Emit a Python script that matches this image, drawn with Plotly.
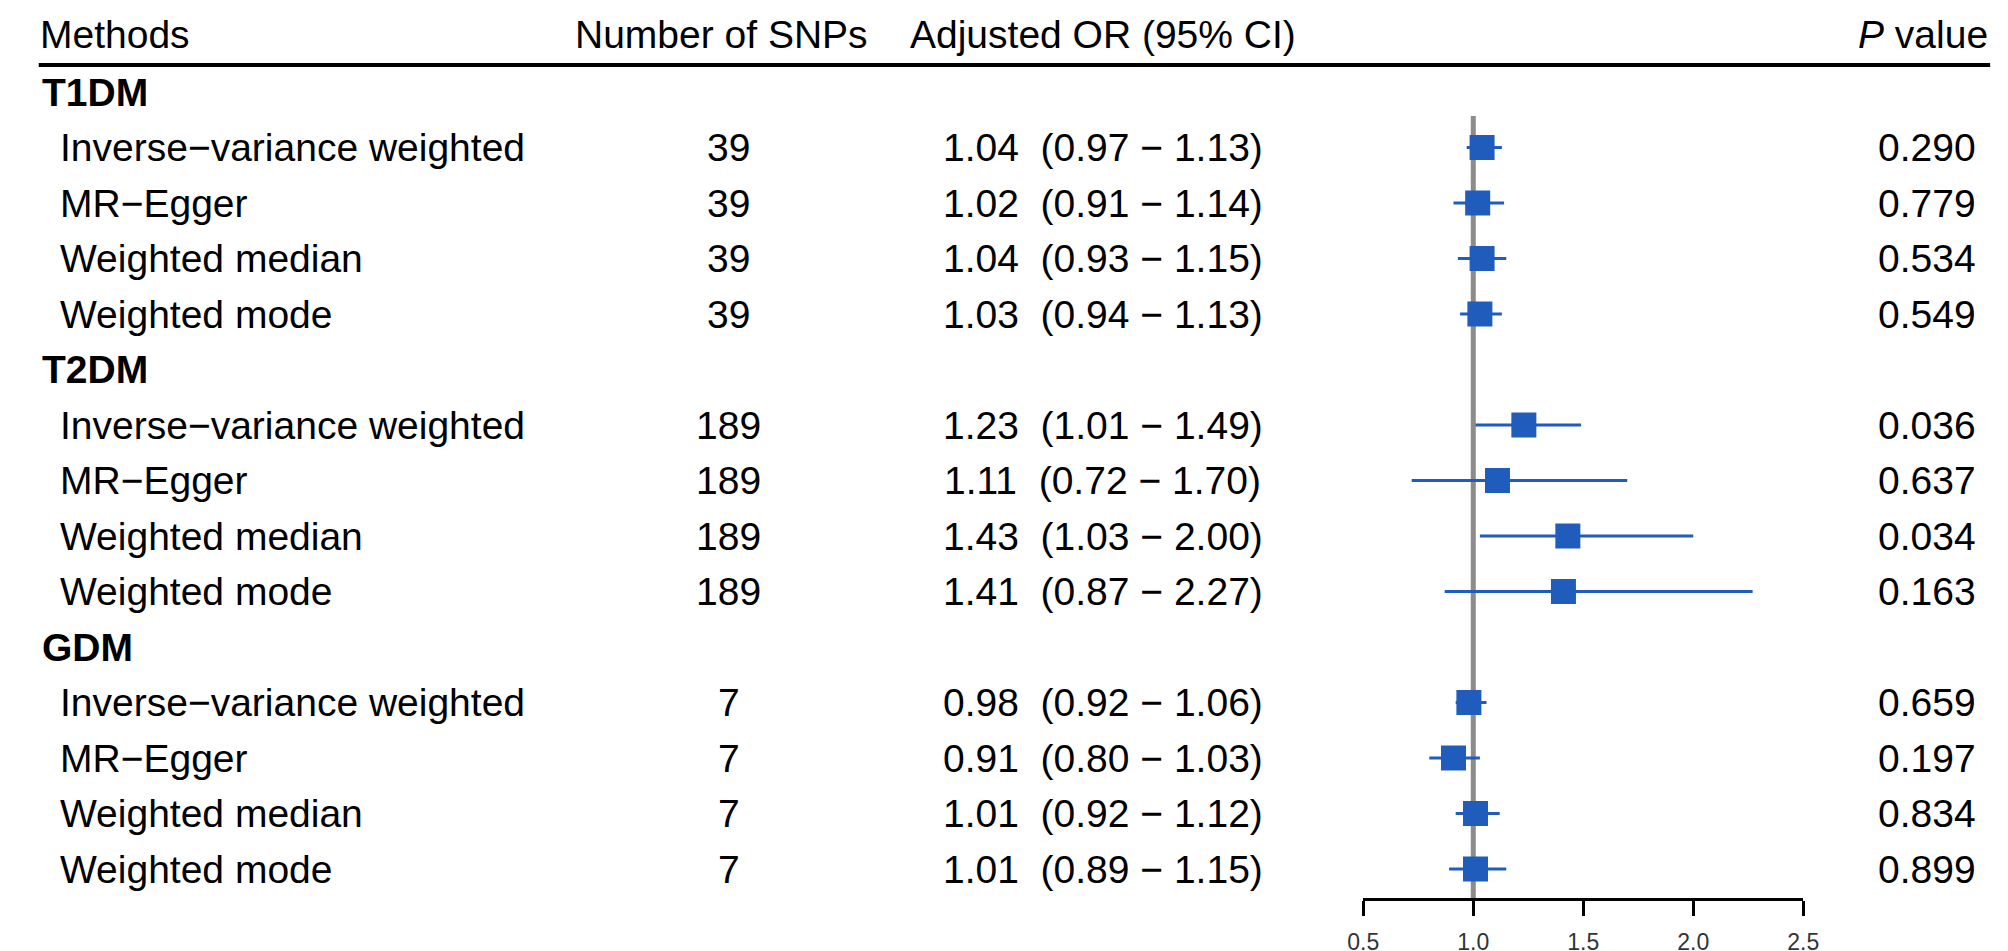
import plotly.graph_objects as go

# data
groups = ["T1DM", "T2DM", "GDM"]
methods = ["Inverse−variance weighted", "MR−Egger", "Weighted median", "Weighted mode"]
n_snps = [39, 189, 7]
or_est = [1.04, 1.02, 1.04, 1.03, 1.23, 1.11, 1.43, 1.41, 0.98, 0.91, 1.01, 1.01]
or_lo = [0.97, 0.91, 0.93, 0.94, 1.01, 0.72, 1.03, 0.87, 0.92, 0.80, 0.92, 0.89]
or_hi = [1.13, 1.14, 1.15, 1.13, 1.49, 1.70, 2.00, 2.27, 1.06, 1.03, 1.12, 1.15]
p_vals = ["0.290", "0.779", "0.534", "0.549",
          "0.036", "0.637", "0.034", "0.163",
          "0.659", "0.197", "0.834", "0.899"]
x_ticks = [0.5, 1.0, 1.5, 2.0, 2.5]

BLUE = "#1f5cbc"
FONT = "Liberation Sans, Arial, sans-serif"
W, H = 2008, 951
ROW0, STEP = 84, 55.5          # pixel centre of first row, row height
AXIS_Y = 890                   # pixel of the x axis line


def row_of(pix):
    return (pix - ROW0) / STEP


def px(x):
    return x / W


# row index for every estimate
rows = []
for g in range(len(groups)):
    for m in range(len(methods)):
        rows.append(g * 5 + m + 1)

fig = go.Figure()

fig.add_trace(go.Scatter(
    x=or_est, y=rows, mode="markers",
    marker=dict(symbol="square", size=25, color=BLUE),
    error_x=dict(type="data", symmetric=False,
                 array=[h - e for h, e in zip(or_hi, or_est)],
                 arrayminus=[e - l for e, l in zip(or_est, or_lo)],
                 width=0, thickness=3, color=BLUE),
    cliponaxis=False, showlegend=False, hoverinfo="skip",
))

# reference line at OR = 1
fig.add_shape(type="line", xref="x", yref="y", x0=1, x1=1,
              y0=row_of(108), y1=row_of(AXIS_Y),
              line=dict(color="#8c8c8c", width=5), layer="below")

# header rule
fig.add_shape(type="line", xref="paper", yref="y", x0=px(15), x1=px(1998),
              y0=row_of(57), y1=row_of(57), line=dict(color="black", width=4))

ann = []
fs = 39
hy = row_of(26)


def txt(x, y, s, anchor="center", bold=False):
    if bold:
        s = "<b>" + s + "</b>"
    ann.append(dict(x=px(x), y=y, xref="paper", yref="y", text=s,
                    xanchor=anchor, yanchor="middle", showarrow=False,
                    font=dict(family=FONT, size=fs, color="black")))


txt(14, hy, "Methods", "left")
txt(709, hy, "Number of SNPs")
txt(1096, hy, "Adjusted OR (95% CI)")
txt(1930, hy, "<i>P</i> value")

k = 0
for g, grp in enumerate(groups):
    txt(16, g * 5, grp, "left", bold=True)
    for m, meth in enumerate(methods):
        r = rows[k]
        txt(35, r, meth, "left")
        txt(716, r, str(n_snps[g]))
        txt(1096, r, f"{or_est[k]:.2f}\u00a0\u00a0({or_lo[k]:.2f} − {or_hi[k]:.2f})")
        txt(1934, r, p_vals[k])
        k += 1

fig.update_layout(
    width=W, height=H,
    margin=dict(l=0, r=0, t=0, b=H - AXIS_Y),
    paper_bgcolor="white", plot_bgcolor="white",
    annotations=ann,
    xaxis=dict(domain=[px(1361), px(1808)], range=[0.5, 2.5],
               tickvals=x_ticks, ticktext=[f"{t:.1f}" for t in x_ticks],
               showline=True, linecolor="black", linewidth=3,
               ticks="outside", ticklen=15, tickwidth=3, tickcolor="black",
               showgrid=False, zeroline=False, ticklabelstandoff=6,
               tickfont=dict(family=FONT, size=23, color="#333333")),
    yaxis=dict(range=[row_of(AXIS_Y), row_of(0)], visible=False,
               showgrid=False, zeroline=False),
)

fig.write_html("out.html")
